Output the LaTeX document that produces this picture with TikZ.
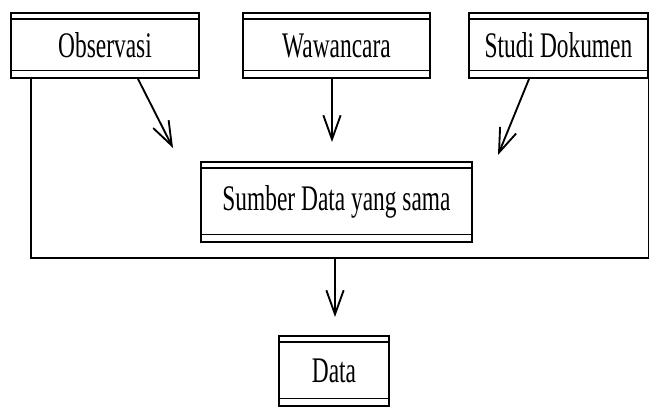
\documentclass[tikz,border=0pt]{standalone}
\usepackage{fontspec}
\setmainfont[FakeStretch=0.65]{Liberation Serif}
\usetikzlibrary{arrows.meta}

\tikzset{
  dblbox/.style={draw, line width=1.4pt, inner sep=0pt, minimum height=48.75pt,
    font=\fontsize{27}{30}\selectfont,
    path picture={
      \draw[line width=1.2pt] ([yshift=-4.5pt]path picture bounding box.north west)
        -- ([yshift=-4.5pt]path picture bounding box.north east);
      \draw[line width=1.2pt] ([yshift=5.5pt]path picture bounding box.south west)
        -- ([yshift=5.5pt]path picture bounding box.south east);
    }},
  flow/.style={line width=1.4pt, -{Straight Barb[length=18pt,width=13pt]}}
}

\begin{document}
\begin{tikzpicture}[x=0.75pt,y=-0.75pt]
        \useasboundingbox (0,0) rectangle (649,407);
        \node[dblbox, minimum width=141pt] (obs) at (105,45.5) {Observasi};
        \node[dblbox, minimum width=140pt] (waw) at (336.5,45.5) {Wawancara};
        \node[dblbox, minimum width=134pt] (stu) at (558.5,45.5) {Studi Dokumen};
        \node[dblbox, minimum width=203pt, minimum height=60pt] (src) at (336.5,202) {Sumber Data yang sama};
        \node[dblbox, minimum width=82pt, minimum height=52.5pt] (data) at (334,371) {Data};

        \coordinate (tipobs) at (173,148);
        \coordinate (tipwaw) at (332,142);
        \coordinate (tipstu) at (498,155);
        \coordinate (join) at (335,258);
        \coordinate (tipdata) at (335,317);

        \draw[flow] ([xshift=24.75pt]obs.south) -- (tipobs);
        \draw[flow] ([xshift=-3.4pt]waw.south) -- (tipwaw);
        \draw[flow] ([xshift=-22.1pt]stu.south) -- (tipstu);
        \draw[line width=1.4pt] ([xshift=15.75pt]obs.south west) |- (join) -| (stu.south east);
        \draw[flow] (join) -- (tipdata);
      \end{tikzpicture}
\end{document}
